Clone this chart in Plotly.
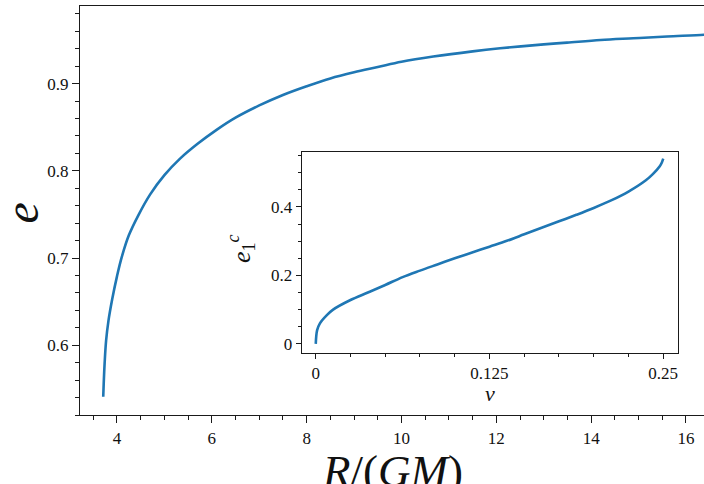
import plotly.graph_objects as go

# Main curve: eccentricity e versus R/(GM)
R = [3.71, 3.72, 3.74, 3.77, 3.82, 3.90, 4.00, 4.10, 4.25, 4.45, 4.70, 5.00, 5.33,
     5.70, 6.10, 6.50, 7.00, 7.50, 8.00, 8.50, 9.00, 9.50, 10.00, 10.67, 11.50,
     12.08, 13.00, 13.49, 14.20, 14.89, 15.60, 16.38, 16.60]
e = [0.541, 0.556, 0.580, 0.605, 0.628, 0.653, 0.679, 0.701, 0.726, 0.749, 0.773,
     0.795, 0.814, 0.831, 0.847, 0.861, 0.875, 0.887, 0.897, 0.906, 0.913, 0.919,
     0.925, 0.931, 0.937, 0.9405, 0.945, 0.947, 0.950, 0.952, 0.954, 0.956, 0.957]

# Inset curve: e_1^c versus nu
nu = [0.0, 0.001, 0.003, 0.008, 0.0125, 0.025, 0.0375, 0.05, 0.0625, 0.075, 0.0875,
      0.1, 0.1125, 0.125, 0.1375, 0.15, 0.1625, 0.175, 0.1875, 0.2, 0.2125, 0.225,
      0.2375, 0.2425, 0.2475, 0.249, 0.25]
e1c = [0.0, 0.040, 0.060, 0.084, 0.100, 0.128, 0.150, 0.172, 0.195, 0.214, 0.232,
       0.250, 0.267, 0.284, 0.301, 0.320, 0.339, 0.358, 0.377, 0.397, 0.419, 0.445,
       0.478, 0.496, 0.519, 0.530, 0.541]

main_xticks = [4, 6, 8, 10, 12, 14, 16]
main_yticks = [0.6, 0.7, 0.8, 0.9]
inset_xticks = [0, 0.125, 0.25]
inset_xlabels = ["0", "0.125", "0.25"]
inset_yticks = [0, 0.2, 0.4]
inset_ylabels = ["0", "0.2", "0.4"]

BLUE = "#1f77b4"
AX = "#1a1a1a"
FONT = "Liberation Serif, DejaVu Serif, serif"

fig = go.Figure()
fig.add_trace(go.Scatter(x=R, y=e, mode="lines",
                         line=dict(color=BLUE, width=2.6, shape="spline", smoothing=1.0),
                         xaxis="x", yaxis="y", showlegend=False))
fig.add_trace(go.Scatter(x=nu, y=e1c, mode="lines",
                         line=dict(color=BLUE, width=2.6, shape="spline", smoothing=1.0),
                         xaxis="x2", yaxis="y2", showlegend=False))

common = dict(showgrid=False, zeroline=False, showline=True, linecolor=AX, linewidth=1.3,
              ticks="outside", tickcolor=AX, tickwidth=1.2, automargin=False,
              tickfont=dict(family=FONT, size=17, color="#111"))

fig.update_layout(
    width=704, height=484,
    margin=dict(l=80, r=0, t=6, b=69, autoexpand=False),
    paper_bgcolor="white", plot_bgcolor="white",
    showlegend=False,
    xaxis=dict(**common, range=[3.22, 16.38], tickvals=main_xticks, ticklen=7, mirror=True,
               minor=dict(dtick=0.5, tick0=0, ticklen=4, ticks="outside", tickcolor=AX, tickwidth=1, showgrid=False)),
    yaxis=dict(**common, range=[0.520, 0.989], tickvals=main_yticks, ticklen=7, mirror=False,
               minor=dict(dtick=0.02, tick0=0, ticklen=4, ticks="outside", tickcolor=AX, tickwidth=1, showgrid=False)),
    xaxis2=dict(**common, domain=[0.3553, 0.9583], anchor="y2", range=[-0.0101, 0.2606],
                tickvals=inset_xticks, ticktext=inset_xlabels, ticklen=5, mirror=True,
                minor=dict(dtick=0.025, tick0=0, ticklen=3, ticks="outside", tickcolor=AX, tickwidth=1, showgrid=False)),
    yaxis2=dict(**common, domain=[0.1522, 0.6426], anchor="x2", range=[-0.026, 0.56],
                tickvals=inset_yticks, ticktext=inset_ylabels, ticklen=5, mirror=True,
                minor=dict(dtick=0.05, tick0=0, ticklen=3, ticks="outside", tickcolor=AX, tickwidth=1, showgrid=False)),
)

# Axis labels
fig.add_annotation(text="<i>R</i>/(<i>GM</i>)", xref="paper", yref="paper", x=0.5, y=-0.071,
                   xanchor="center", yanchor="top", showarrow=False,
                   font=dict(family=FONT, size=45, color="#111"))
fig.add_annotation(text="<i>e</i>", xref="paper", yref="paper", x=-0.093, y=0.495,
                   xanchor="center", yanchor="middle", textangle=-90, showarrow=False,
                   font=dict(family=FONT, size=48, color="#111"))
fig.add_annotation(text="<i>e</i><sub>1</sub><sup><i>c</i></sup>", xref="paper", yref="paper",
                   x=0.258, y=0.408, xanchor="center", yanchor="middle", textangle=-90,
                   showarrow=False, font=dict(family=FONT, size=26, color="#111"))
fig.add_annotation(text="<i>ν</i>", xref="paper", yref="paper", x=0.657, y=0.052,
                   xanchor="center", yanchor="middle", showarrow=False,
                   font=dict(family=FONT, size=22, color="#111"))

fig.write_html("out.html", config={"displayModeBar": False},
               post_script="document.body.style.margin='0px';document.body.style.overflow='hidden';")
